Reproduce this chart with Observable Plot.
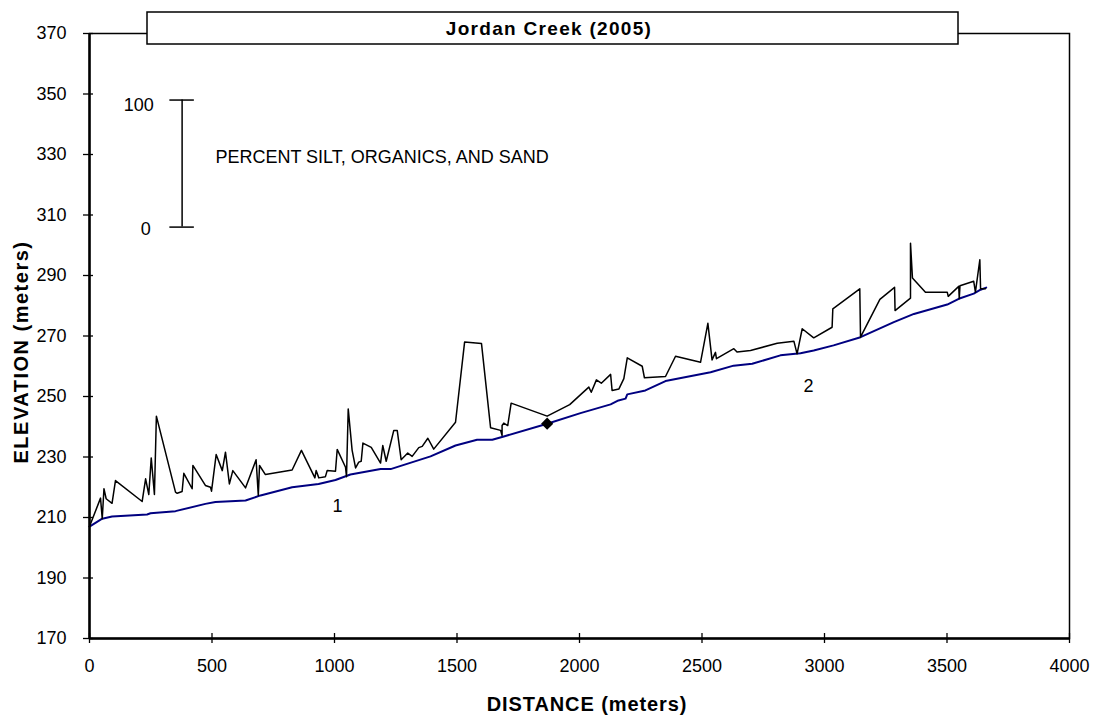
<!DOCTYPE html>
<html><head><meta charset="utf-8">
<script src="https://cdn.jsdelivr.net/npm/d3@7"></script>
<script src="https://cdn.jsdelivr.net/npm/@observablehq/plot@0.6"></script>
<style>
html,body{margin:0;padding:0;background:#fff;}
#chart{width:1097px;height:721px;}
</style></head><body><div id="chart"></div>
<script>
// Water-surface / sediment profile (black) — distance (m), elevation (m)
const profileDistance = [0,45,52,59,68,92,106,215,229,242,252,265,273,351,358,378,385,419,422,473,494,498,517,542,555,571,585,637,680,689,694,718,827,865,920,925,936,963,970,1004,1011,1045,1049,1056,1072,1086,1099,1109,1116,1150,1188,1197,1211,1242,1256,1272,1299,1317,1344,1358,1381,1405,1494,1531,1600,1637,1678,1684,1684,1691,1707,1721,1868,1960,2038,2048,2069,2089,2127,2133,2161,2181,2195,2256,2265,2351,2392,2494,2524,2541,2555,2559,2630,2643,2698,2807,2875,2888,2909,2956,3031,3034,3144,3147,3226,3286,3288,3351,3351,3359,3412,3501,3505,3548,3550,3553,3609,3616,3634,3637,3657];
const profileElevation = [207,216.4,209.6,219.5,216.2,214.7,222.2,215.3,222.8,217.6,229.7,217.6,243.5,218.4,218,218.6,224.6,219.5,227.2,220.6,220,218.7,230.8,225.5,231.6,221.1,225.5,219.8,229.1,217.3,227.2,224.2,225.7,232.2,223.1,225.5,223.1,223.5,225.5,225.3,232.5,226.6,223.5,245.9,232.2,226.4,228.3,228.6,234.6,233.2,228,233.8,228.6,238.8,238.8,229.1,231.3,230.2,233.1,233.5,236.2,232.6,241.5,268,267.5,239.7,238.8,237.1,240.4,241.2,240.4,247.8,243.5,247.3,253.1,251.4,255.5,254.4,257.3,252,252.5,255.9,262.8,260,256.2,256.6,263.3,261.3,274.2,262.1,264.6,262.5,265.8,264.7,265.2,267.6,268.3,264.1,272.4,269.4,272.9,279,285.6,269.6,282.1,286.1,278.4,282.5,300.7,289.2,284.5,284.5,283.1,286.4,282.3,286.6,288.1,284.5,295.2,285.6,285.6];

// Streambed (blue) — distance (m), elevation (m)
const bedDistance = [0,52,92,235,249,351,473,514,637,698,827,935,1004,1065,1188,1229,1392,1494,1582,1644,1691,1868,2004,2127,2159,2188,2195,2269,2351,2535,2629,2705,2820,2902,2956,3037,3147,3283,3365,3501,3548,3609,3637,3660];
const bedElevation = [207,209.6,210.3,211,211.4,212.1,214.5,215.1,215.6,217.3,220,221.1,222.4,224.2,226,226,230.2,233.8,235.7,235.7,236.8,241,244.5,247.4,248.7,249.3,250.7,252,255.1,258,260.2,260.8,263.6,264.3,265.2,266.9,269.6,274.6,277.3,280.4,282.3,284,285.3,286];

const xTicks = [0,500,1000,1500,2000,2500,3000,3500,4000];
const yTicks = [170,190,210,230,250,270,290,310,330,350,370];

const markerDistance = [1868];
const markerElevation = [241];

const reachLabels = ["1","2"];
const reachLabelDistance = [1012,2935];
const reachLabelElevation = [213.6,253.3];

// percent scale bar (annotation)
const scaleBarDistance = [378];
const scaleBarLow = [306];
const scaleBarHigh = [348];
const scaleBarLabels = ["100","0"];
const scaleBarLabelDistance = [262,250];
const scaleBarLabelElevation = [346.3,305.2];
const scaleBarCaption = "PERCENT SILT, ORGANICS, AND SAND";

const titleText = "Jordan Creek (2005)";
const xTitle = "DISTANCE (meters)";
const yTitle = "ELEVATION (meters)";

const profile = profileDistance.map((d,i)=>({distance:d, elevation:profileElevation[i]}));
const bed = bedDistance.map((d,i)=>({distance:d, elevation:bedElevation[i]}));
const marker = markerDistance.map((d,i)=>({distance:d, elevation:markerElevation[i]}));
const reach = reachLabels.map((t,i)=>({text:t, distance:reachLabelDistance[i], elevation:reachLabelElevation[i]}));
const sbLabels = scaleBarLabels.map((t,i)=>({text:t, distance:scaleBarLabelDistance[i], elevation:scaleBarLabelElevation[i]}));
const capHalf = 50;
const caps = [scaleBarLow[0], scaleBarHigh[0]].map(e=>({x1:scaleBarDistance[0]-capHalf, x2:scaleBarDistance[0]+capHalf, y:e}));

const FONT = "'Liberation Sans', Arial, sans-serif";
const plain = d => String(d);

const svg = Plot.plot({
  width:1097, height:721,
  marginLeft:89, marginRight:28, marginTop:33, marginBottom:83,
  x:{domain:[0,4000], label:null},
  y:{domain:[170,370], label:null},
  style:{fontFamily:FONT, fontSize:"18px", color:"#000", background:"#fff", overflow:"visible"},
  marks:[
    Plot.line(bed, {x:"distance", y:"elevation", stroke:"#000080", strokeWidth:2}),
    Plot.line(profile, {x:"distance", y:"elevation", stroke:"#000", strokeWidth:1.5}),
    Plot.dot(marker, {x:"distance", y:"elevation", symbol:"diamond2", fill:"#000", r:5.5}),
    Plot.text(reach, {x:"distance", y:"elevation", text:"text", fontSize:18, fill:"#000"}),
    Plot.ruleX(scaleBarDistance, {y1:scaleBarLow[0], y2:scaleBarHigh[0], stroke:"#000", strokeWidth:1.5}),
    Plot.ruleY(caps, {x1:"x1", x2:"x2", y:"y", stroke:"#000", strokeWidth:1.5}),
    Plot.text(sbLabels, {x:"distance", y:"elevation", text:"text", textAnchor:"end", fontSize:18, fill:"#000"}),
    Plot.text([scaleBarCaption], {x:514, y:329.1, text:d=>d, textAnchor:"start", fontSize:18, fill:"#000"}),
    Plot.frame({stroke:"#000", strokeWidth:1.5}),
    Plot.ruleX([0], {stroke:"#000", strokeWidth:2.5}),
    Plot.ruleY([170], {stroke:"#000", strokeWidth:2.5}),
    Plot.axisY({ticks:yTicks, tickSize:10, dx:4, tickFormat:()=>"", label:null, stroke:"#000", strokeWidth:1.3}),
    Plot.axisY({ticks:yTicks, tickSize:0, tickPadding:23, tickFormat:plain, label:null, fontSize:18, fill:"#000"}),
    Plot.axisX({ticks:xTicks, tickSize:10, dy:-5, tickFormat:()=>"", label:null, stroke:"#000", strokeWidth:1.3}),
    Plot.axisX({ticks:xTicks, tickSize:0, tickPadding:21, tickFormat:plain, label:null, fontSize:18, fill:"#000"})
  ]
});
document.getElementById("chart").appendChild(svg);

const s = d3.select(svg);
s.append("rect").attr("x",147).attr("y",12).attr("width",811).attr("height",32)
  .attr("fill","#fff").attr("stroke","#000").attr("stroke-width",1.5);
s.append("text").attr("x",549).attr("y",28.5).attr("text-anchor","middle").attr("dominant-baseline","central")
  .attr("font-family",FONT).attr("font-weight","bold").attr("font-size",19).attr("letter-spacing","1.3px").text(titleText);
s.append("text").attr("transform","translate(21,352) rotate(-90)").attr("text-anchor","middle").attr("dominant-baseline","central")
  .attr("font-family",FONT).attr("font-weight","bold").attr("font-size",20).attr("letter-spacing","1.5px").text(yTitle);
s.append("text").attr("x",587).attr("y",704).attr("text-anchor","middle").attr("dominant-baseline","central")
  .attr("font-family",FONT).attr("font-weight","bold").attr("font-size",20).attr("letter-spacing","0.9px").text(xTitle);
</script></body></html>
